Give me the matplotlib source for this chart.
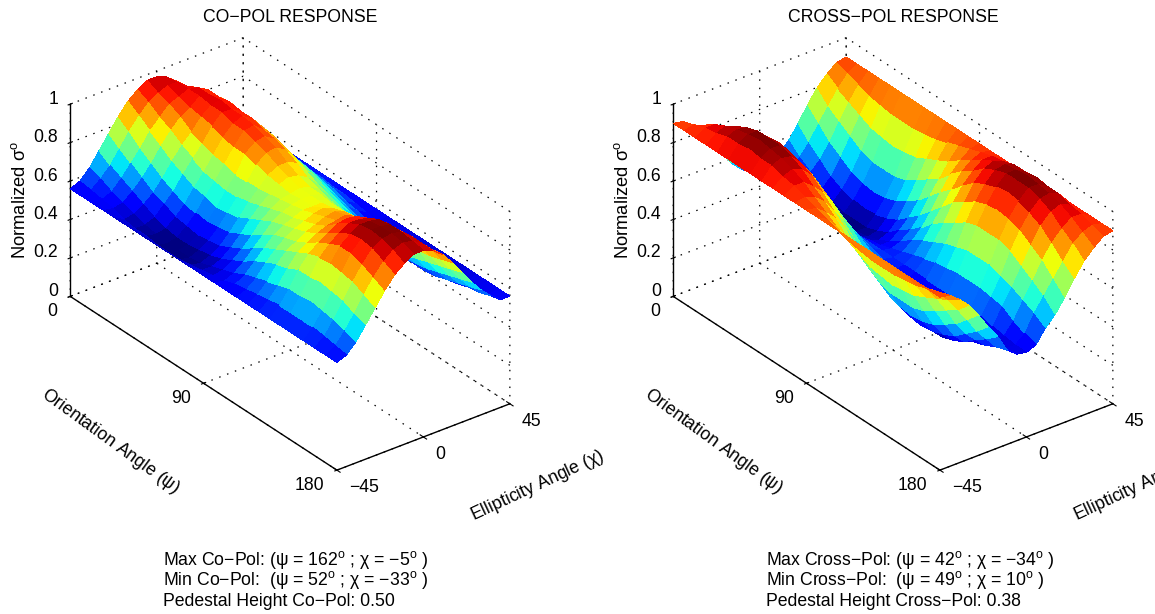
import matplotlib
matplotlib.use('Agg')
import matplotlib.pyplot as plt
import numpy as np
from mpl_toolkits.mplot3d import proj3d

plt.rcParams['font.family'] = ['Liberation Sans', 'DejaVu Sans']
plt.rcParams['mathtext.fontset'] = 'dejavusans'
plt.rcParams['mathtext.default'] = 'regular'

# grid of the surfaces
psi = [0, 7.5, 15, 22.5, 30, 37.5, 45, 52.5, 60, 67.5, 75, 82.5, 90,
       97.5, 105, 112.5, 120, 127.5, 135, 142.5, 150, 157.5, 165, 172.5, 180]
chi = [-45, -40, -35, -30, -25, -20, -15, -10, -5, 0, 5, 10, 15, 20, 25, 30, 35, 40, 45]

# one row per chi, one column per psi
co_pol = [
    [.56, .56, .56, .56, .56, .56, .56, .56, .56, .56, .56, .56, .56, .56, .56, .56, .56, .56, .56, .56, .56, .56, .56, .56, .56],
    [.58, .57, .56, .55, .53, .52, .52, .51, .51, .51, .52, .53, .54, .55, .57, .58, .59, .60, .61, .61, .61, .61, .60, .59, .58],
    [.63, .61, .58, .56, .54, .52, .51, .50, .50, .50, .51, .53, .55, .57, .60, .62, .64, .66, .68, .68, .69, .68, .67, .65, .63],
    [.70, .66, .63, .60, .57, .54, .52, .51, .51, .52, .53, .55, .58, .61, .65, .68, .71, .73, .76, .76, .77, .76, .75, .72, .70],
    [.77, .73, .69, .65, .61, .59, .56, .55, .54, .55, .56, .59, .62, .66, .70, .73, .76, .79, .82, .84, .85, .84, .83, .80, .77],
    [.84, .80, .75, .71, .67, .64, .61, .60, .59, .60, .61, .64, .67, .71, .75, .77, .79, .82, .86, .89, .92, .92, .90, .87, .84],
    [.90, .86, .82, .78, .74, .71, .68, .67, .65, .66, .67, .70, .73, .76, .78, .80, .82, .85, .89, .93, .96, .97, .96, .93, .90],
    [.94, .91, .87, .84, .80, .77, .74, .73, .72, .72, .73, .75, .77, .79, .80, .82, .84, .87, .92, .96, .99, 1.0, .99, .97, .94],
    [.97, .94, .92, .89, .85, .83, .81, .80, .78, .78, .78, .79, .80, .81, .82, .84, .86, .88, .93, .96, .99, 1.0, 1.0, .99, .97],
    [.97, .96, .94, .92, .91, .90, .88, .87, .87, .85, .83, .82, .81, .82, .82, .85, .87, .89, .92, .95, .98, .99, .99, .98, .97],
    [.95, .96, .96, .96, .95, .95, .93, .93, .91, .89, .86, .84, .82, .82, .82, .83, .85, .86, .88, .90, .93, .94, .95, .95, .95],
    [.91, .92, .95, .95, .96, .95, .95, .94, .92, .90, .86, .83, .81, .81, .80, .80, .81, .82, .83, .84, .86, .87, .89, .90, .91],
    [.85, .87, .92, .92, .93, .92, .92, .90, .89, .87, .84, .80, .78, .76, .75, .74, .74, .75, .75, .76, .78, .80, .81, .83, .85],
    [.78, .80, .84, .85, .86, .86, .86, .85, .83, .81, .78, .75, .73, .71, .69, .68, .67, .67, .67, .68, .70, .72, .74, .76, .78],
    [.71, .73, .76, .77, .78, .78, .78, .77, .76, .74, .73, .70, .68, .66, .64, .62, .61, .61, .61, .62, .63, .65, .67, .69, .71],
    [.65, .67, .69, .70, .71, .72, .72, .71, .70, .69, .67, .65, .63, .61, .59, .57, .56, .56, .56, .56, .57, .59, .61, .63, .65],
    [.60, .61, .63, .64, .65, .65, .65, .65, .64, .63, .62, .60, .59, .57, .56, .54, .53, .53, .53, .53, .54, .55, .57, .58, .60],
    [.56, .57, .58, .59, .59, .59, .60, .59, .59, .58, .58, .57, .56, .55, .54, .54, .53, .53, .53, .53, .53, .54, .55, .55, .56],
    [.56, .56, .56, .56, .56, .56, .56, .56, .56, .56, .56, .56, .56, .56, .56, .56, .56, .56, .56, .56, .56, .56, .56, .56, .56],
]

cross_pol = [
    [.90, .90, .90, .90, .90, .90, .90, .90, .90, .90, .90, .90, .90, .90, .90, .90, .90, .90, .90, .90, .90, .90, .90, .90, .90],
    [.89, .91, .93, .94, .96, .96, .97, .96, .96, .94, .93, .91, .89, .87, .85, .83, .82, .81, .81, .81, .82, .83, .85, .87, .89],
    [.85, .89, .93, .96, .98, .99, 1.0, .99, .98, .96, .93, .89, .85, .81, .78, .75, .72, .71, .70, .71, .72, .75, .78, .81, .85],
    [.80, .85, .89, .94, .97, .99, .99, .99, .97, .94, .89, .85, .80, .74, .70, .66, .62, .60, .60, .60, .62, .66, .70, .74, .80],
    [.73, .78, .84, .89, .92, .94, .95, .94, .92, .89, .84, .78, .73, .67, .61, .57, .53, .51, .50, .51, .53, .57, .61, .67, .73],
    [.65, .71, .77, .81, .85, .87, .88, .87, .85, .81, .77, .71, .65, .59, .54, .49, .46, .44, .43, .44, .46, .49, .54, .59, .65],
    [.58, .64, .68, .72, .76, .78, .78, .78, .76, .72, .68, .64, .58, .53, .49, .44, .41, .39, .39, .39, .41, .44, .49, .53, .58],
    [.53, .57, .60, .63, .65, .67, .67, .67, .65, .63, .60, .57, .53, .49, .45, .42, .40, .39, .38, .39, .40, .42, .44, .47, .49],
    [.49, .51, .53, .55, .56, .57, .57, .57, .56, .55, .53, .51, .49, .47, .45, .44, .42, .42, .41, .42, .42, .44, .43, .44, .45],
    [.48, .48, .48, .48, .48, .48, .48, .48, .48, .48, .48, .48, .48, .48, .48, .48, .48, .48, .48, .48, .48, .46, .45, .44, .44],
    [.49, .47, .45, .44, .42, .42, .41, .42, .42, .44, .45, .47, .49, .51, .53, .55, .56, .57, .57, .57, .56, .55, .51, .48, .46],
    [.53, .49, .45, .42, .40, .39, .38, .39, .40, .42, .45, .49, .53, .57, .60, .63, .65, .67, .67, .67, .65, .63, .60, .57, .53],
    [.58, .53, .49, .44, .41, .39, .39, .39, .41, .44, .49, .53, .58, .64, .68, .72, .76, .78, .78, .78, .76, .72, .68, .64, .58],
    [.65, .59, .54, .49, .46, .44, .43, .44, .46, .49, .54, .59, .65, .71, .77, .81, .85, .87, .88, .87, .85, .81, .77, .71, .65],
    [.73, .67, .61, .57, .53, .51, .50, .51, .53, .57, .61, .67, .73, .78, .84, .89, .92, .94, .95, .94, .92, .89, .84, .78, .73],
    [.80, .74, .70, .66, .62, .60, .60, .60, .62, .66, .70, .74, .80, .85, .89, .94, .97, .99, .99, .99, .97, .94, .89, .85, .80],
    [.85, .81, .78, .75, .72, .71, .70, .71, .72, .75, .78, .81, .85, .89, .93, .96, .98, .99, 1.0, .99, .98, .96, .93, .89, .85],
    [.89, .87, .85, .83, .82, .81, .81, .81, .82, .83, .85, .87, .89, .91, .93, .94, .96, .96, .97, .96, .96, .94, .93, .91, .89],
    [.90, .90, .90, .90, .90, .90, .90, .90, .90, .90, .90, .90, .90, .90, .90, .90, .90, .90, .90, .90, .90, .90, .90, .90, .90],
]

psi_ticks = [0, 90, 180]
psi_ticklabels = ['0', '90', '180']
chi_ticks = [-45, 0, 45]
chi_ticklabels = ['\u221245', '0', '45']
z_ticks = [0, 0.2, 0.4, 0.6, 0.8, 1]
z_ticklabels = ['0', '0.2', '0.4', '0.6', '0.8', '1']

titles = ['CO\u2212POL RESPONSE', 'CROSS\u2212POL RESPONSE']
notes = [
    ['Max Co\u2212Pol: ($\\psi$ = 162$^{o}$ ; $\\chi$ = \u22125$^{o}$ )',
     'Min Co\u2212Pol:  ($\\psi$ = 52$^{o}$ ; $\\chi$ = \u221233$^{o}$ )',
     'Pedestal Height Co\u2212Pol: 0.50'],
    ['Max Cross\u2212Pol: ($\\psi$ = 42$^{o}$ ; $\\chi$ = \u221234$^{o}$ )',
     'Min Cross\u2212Pol:  ($\\psi$ = 49$^{o}$ ; $\\chi$ = 10$^{o}$ )',
     'Pedestal Height Cross\u2212Pol: 0.38'],
]

W, H = 1155, 614
FS = 12.7
fig = plt.figure(figsize=(W / 100, H / 100), dpi=100)


def tick_text(ax, x, y, z, label, dx, dy, ha):
    # label placed relative to where the tick projects to
    px, py, _ = proj3d.proj_transform(x, y, z, ax.get_proj())
    ax.annotate(label, xy=(px, py), xytext=(dx, dy), textcoords='offset pixels',
                ha=ha, va='center', fontsize=FS, annotation_clip=False)


def draw_panel(dx, values, title, title_x, lines):
    # matlab default view, axes square chosen so the box lands where it should
    ax = fig.add_axes([(22.2 + dx) / W, 92.2 / H, 521.6 / W, 521.6 / H], projection='3d', proj_type='ortho')
    ax.patch.set_alpha(0)
    ax.view_init(elev=30, azim=-37.5)
    ax.set_box_aspect((438, 218, 222))

    X, Y = np.meshgrid(psi, chi)
    Z = np.array(values)
    ax.plot_surface(X, Y, Z, cmap='jet', rstride=1, cstride=1, linewidth=0, antialiased=False, shade=False)

    ax.set_xlim(0, 180, view_margin=0)
    ax.set_ylim(-45, 45, view_margin=0)
    ax.set_zlim(0, 1, view_margin=0)
    ax.set_xticks(psi_ticks)
    ax.set_yticks(chi_ticks)
    ax.set_zticks(z_ticks)
    ax.set_xticklabels([''] * len(psi_ticks))
    ax.set_yticklabels([''] * len(chi_ticks))
    ax.set_zticklabels([''] * len(z_ticks))
    ax.zaxis.set_ticks_position('lower')

    for axis in [ax.xaxis, ax.yaxis, ax.zaxis]:
        axis.pane.set_facecolor((1, 1, 1, 0))
        axis.pane.set_edgecolor('none')
        axis._axinfo['grid'].update(color='k', linewidth=0.9, linestyle=(0, (1.2, 5.5)))
        axis._axinfo['tick'].update(inward_factor=0.15, outward_factor=0.15)
        axis.line.set_linewidth(1.0)

    for v, label in zip(psi_ticks, psi_ticklabels):
        tick_text(ax, v, -45, 0, label, -13, -15.5, 'right')
    for v, label in zip(chi_ticks, chi_ticklabels):
        tick_text(ax, 180, v, 0, label, 12, -17.5, 'left')
    for v, label in zip(z_ticks, z_ticklabels):
        tick_text(ax, 0, -45, v, label, -12, 5, 'right')

    fig.text(title_x / W, 1 - 18 / H, title, fontsize=FS, ha='center', va='center')
    fig.text((110 + dx) / W, 1 - 441 / H, 'Orientation Angle ($\\psi$)', fontsize=FS,
             rotation=-36, ha='center', va='center')
    fig.text((537 + dx) / W, 1 - 486 / H, 'Ellipticity Angle ($\\chi$)', fontsize=FS,
             rotation=25, ha='center', va='center')
    fig.text((20 + dx) / W, 1 - 200 / H, 'Normalized $\\sigma^{o}$', fontsize=FS + 0.5,
             rotation=90, ha='center', va='center')
    for line, y in zip(lines, [560, 580, 601]):
        fig.text((163 + dx) / W, 1 - y / H, line, fontsize=FS, ha='left', va='center')


draw_panel(0, co_pol, titles[0], 290, notes[0])
draw_panel(603, cross_pol, titles[1], 893.5, notes[1])

fig.savefig('out.png', dpi=100)
